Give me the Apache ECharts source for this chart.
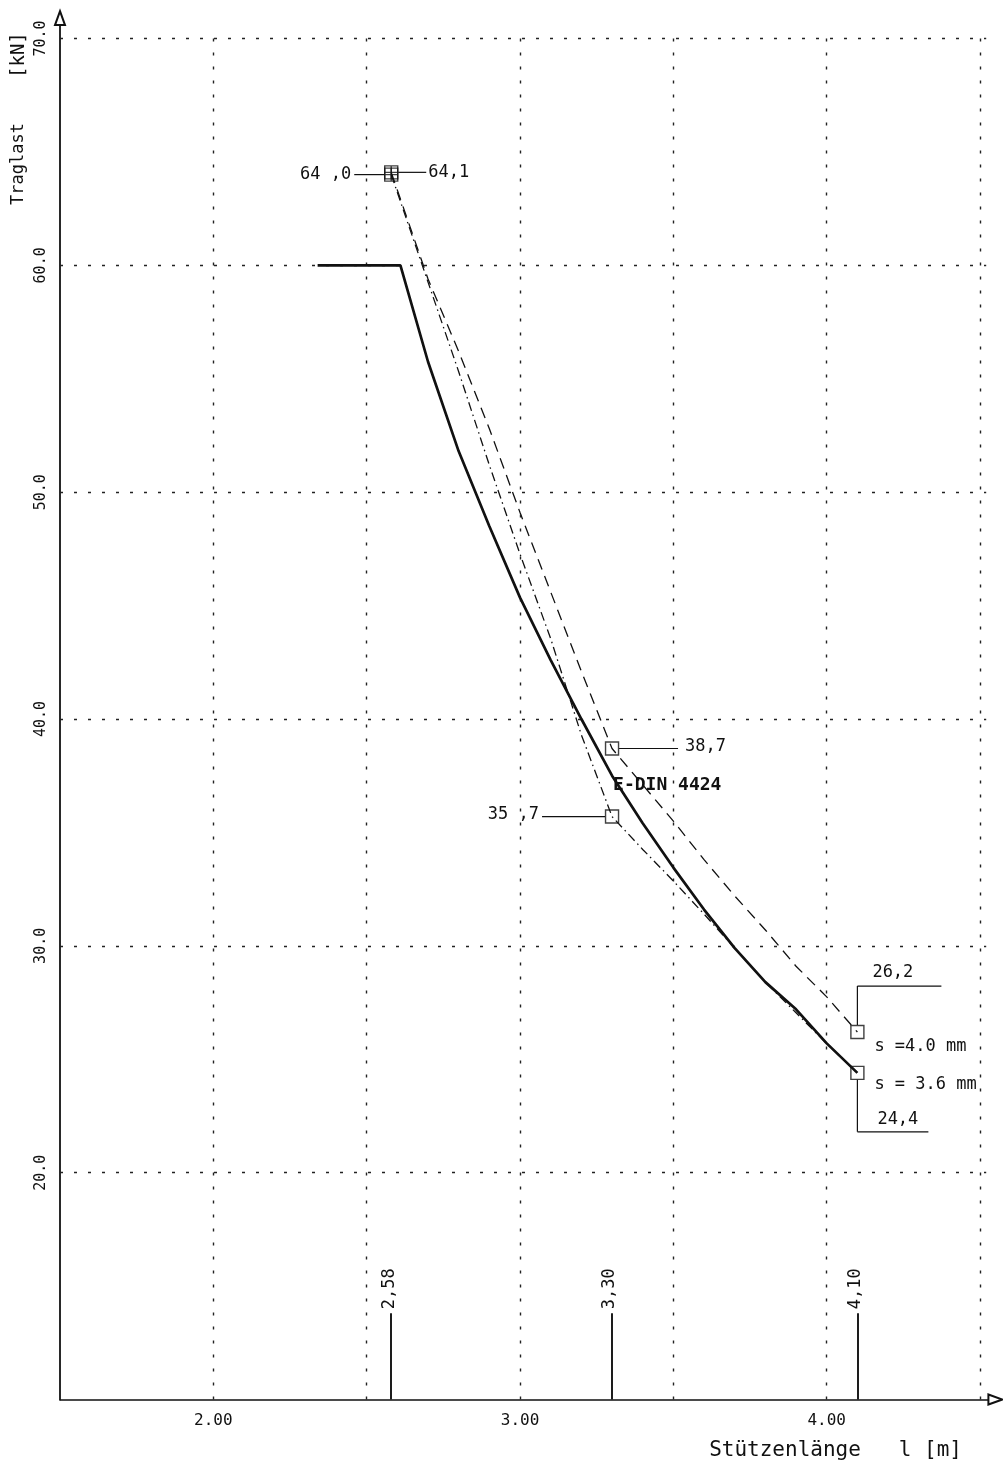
<!DOCTYPE html>
<html>
<head>
<meta charset="utf-8">
<script src="https://cdn.jsdelivr.net/npm/echarts@6/dist/echarts.min.js"></script>
<style>
  html, body { margin: 0; padding: 0; background: #fff; }
  #chart { width: 1003px; height: 1466px; }
</style>
</head>
<body>
<div id="chart"></div>
<script>
// Traglast [kN] über Stützenlänge l [m]

// Bemessungskurve nach E-DIN 4424
const dinLength = [2.34, 2.61, 2.70, 2.80, 2.90, 3.00, 3.10, 3.20, 3.30, 3.40, 3.50, 3.60, 3.70, 3.80, 3.90, 4.00, 4.10];
const dinLoad   = [60.0, 60.0, 55.75, 51.8, 48.5, 45.35, 42.6, 40.0, 37.5, 35.4, 33.45, 31.6, 29.9, 28.4, 27.2, 25.7, 24.4];

// Kurve Wanddicke s = 4.0 mm (gestrichelt)
const s40Length = [2.58, 2.70, 2.80, 2.90, 3.00, 3.10, 3.20, 3.30, 3.40, 3.50, 3.60, 3.70, 3.80, 3.90, 4.00, 4.10];
const s40Load   = [64.1, 59.4, 56.2, 52.8, 49.1, 45.6, 42.1, 38.7, 37.1, 35.5, 33.8, 32.2, 30.7, 29.1, 27.75, 26.2];

// Kurve Wanddicke s = 3.6 mm (strichpunktiert)
const s36Length = [2.58, 2.70, 2.80, 2.90, 3.00, 3.10, 3.20, 3.30, 3.40, 3.50, 3.60, 3.70, 3.80, 3.90, 4.00, 4.10];
const s36Load   = [64.0, 59.26, 55.31, 51.19, 47.27, 43.54, 39.3, 35.7, 34.25, 32.86, 31.4, 29.9, 28.4, 27.05, 25.69, 24.4];

// Versuchswerte
const testLength  = [2.58, 3.30, 4.10];
const testLoad40  = [64.1, 38.7, 26.2];
const testLoad36  = [64.0, 35.7, 24.4];
const testLabel40 = ['64,1', '38,7', '26,2'];
const testLabel36 = ['64 ,0', '35 ,7', '24,4'];
const lengthLabels = ['2,58', '3,30', '4,10'];
const curveTags = ['s =4.0 mm', 's = 3.6 mm'];
const dinTag = 'E-DIN 4424';

// Achsen
const xTickValues = [2, 3, 4];
const xTickLabels = ['2.00', '3.00', '4.00'];
const yTickValues = [20, 30, 40, 50, 60, 70];
const yTickLabels = ['20.0', '30.0', '40.0', '50.0', '60.0', '70.0'];
const gridLength = [2.0, 2.5, 3.0, 3.5, 4.0, 4.5];
const gridLoad = [20, 30, 40, 50, 60, 70];
const xTitle = 'Stützenlänge   l [m]';
const yTitle = 'Traglast';
const yUnit = '[kN]';

const mono = '"DejaVu Sans Mono", "Liberation Mono", monospace';
const ink = '#111';
const stemTop = 13.8;

const zip = (xs, ys) => xs.map((x, i) => [x, ys[i]]);
const pickLabel = (vals, labels) => v => {
  const i = vals.findIndex(t => Math.abs(t - v) < 1e-6);
  return i >= 0 ? labels[i] : '';
};

const gridSegments = [
  ...gridLength.map(x => [{ coord: [x, 10] }, { coord: [x, 70] }]),
  ...gridLoad.map(y => [{ coord: [1.5, y] }, { coord: [4.52, y] }])
];
const stemSegments = testLength.map(x => [{ coord: [x, 10] }, { coord: [x, stemTop] }]);

const boxSymbol = 'path://M0,0H12V12H0Z';
const crossBoxSymbol = 'path://M0,0H12V12H0Z M6,0V12 M0,6H12';
const markerData = (loads) => testLength.map((x, i) => ({
  value: [x, loads[i]],
  symbol: i === 0 ? crossBoxSymbol : boxSymbol
}));

const chart = echarts.init(document.getElementById('chart'), null, { renderer: 'canvas' });

chart.setOption({
  animation: false,
  backgroundColor: '#fff',
  grid: { left: 60, right: 7.6, top: 18.1, bottom: 66.5, containLabel: false, outerBoundsMode: 'none' },
  xAxis: {
    type: 'value', min: 1.5, max: 4.55, interval: 0.5,
    axisLine: {
      show: true, onZero: false,
      lineStyle: { color: ink, width: 1.5 },
      symbol: ['none', 'emptyTriangle'], symbolSize: [10, 14]
    },
    axisTick: { show: false },
    splitLine: { show: false },
    axisLabel: {
      formatter: pickLabel(xTickValues, xTickLabels),
      fontFamily: mono, fontSize: 16, color: ink, margin: 13
    }
  },
  yAxis: {
    type: 'value', min: 10, max: 70.9, interval: 10,
    axisLine: {
      show: true, onZero: false,
      lineStyle: { color: ink, width: 1.8 },
      symbol: ['none', 'emptyTriangle'], symbolSize: [10, 14]
    },
    axisTick: { show: false },
    splitLine: { show: false },
    axisLabel: {
      rotate: 90,
      formatter: pickLabel(yTickValues, yTickLabels),
      fontFamily: mono, fontSize: 15, color: ink, margin: 11
    }
  },
  series: [
    {
      type: 'line', name: 'grid', data: [], z: 1, silent: true,
      markLine: {
        silent: true, symbol: ['none', 'none'], label: { show: false }, animation: false,
        lineStyle: { type: [3, 11], width: 1.4, color: '#222' },
        data: gridSegments
      }
    },
    {
      type: 'line', name: 'stems', data: [], z: 2, silent: true,
      markLine: {
        silent: true, symbol: ['none', 'none'], label: { show: false }, animation: false,
        lineStyle: { type: 'solid', width: 1.9, color: ink },
        data: stemSegments
      }
    },
    {
      type: 'line', name: dinTag, data: zip(dinLength, dinLoad), z: 5,
      symbol: 'none', smooth: false,
      lineStyle: { color: ink, width: 2.7 }
    },
    {
      type: 'line', name: curveTags[0], data: zip(s40Length, s40Load), z: 4,
      symbol: 'none', smooth: false,
      lineStyle: { color: ink, width: 1.3, type: [11, 7] }
    },
    {
      type: 'line', name: curveTags[1], data: zip(s36Length, s36Load), z: 4,
      symbol: 'none', smooth: false,
      lineStyle: { color: ink, width: 1.3, type: [9, 4, 1.5, 4] }
    },
    {
      type: 'scatter', name: 'Versuch 4.0', data: markerData(testLoad40), z: 6,
      symbolSize: 13,
      itemStyle: { color: 'rgba(0,0,0,0)', borderColor: ink, borderWidth: 1.4 }
    },
    {
      type: 'scatter', name: 'Versuch 3.6', data: markerData(testLoad36), z: 6,
      symbolSize: 13,
      itemStyle: { color: 'rgba(0,0,0,0)', borderColor: ink, borderWidth: 1.4 }
    }
  ]
});

// Beschriftungen und Bezugslinien, über die Achsenskalen positioniert
const px = (x, y) => chart.convertToPixel({ gridIndex: 0 }, [x, y]);
const g = [];
function seg(a, b, w) {
  g.push({ type: 'line', silent: true, z: 10,
    shape: { x1: a[0], y1: a[1], x2: b[0], y2: b[1] },
    style: { stroke: ink, lineWidth: w || 1.2 } });
}
function txt(p, text, o) {
  o = o || {};
  g.push({ type: 'text', silent: true, z: 10, x: p[0], y: p[1], rotation: o.rot || 0,
    style: { text: text, fill: ink, fontFamily: o.family || mono, fontSize: o.size || 17,
      fontWeight: o.weight || 'normal', align: o.align || 'left', verticalAlign: o.va || 'middle' } });
}

const p40 = testLength.map((x, i) => px(x, testLoad40[i]));
const p36 = testLength.map((x, i) => px(x, testLoad36[i]));

// l = 2.58
seg([p40[0][0] + 7, p40[0][1]], [p40[0][0] + 35, p40[0][1]]);
txt([p40[0][0] + 37, p40[0][1]], testLabel40[0]);
seg([p36[0][0] - 7, p36[0][1]], [p36[0][0] - 37, p36[0][1]]);
txt([p36[0][0] - 40, p36[0][1]], testLabel36[0], { align: 'right' });

// l = 3.30
seg([p40[1][0] + 7, p40[1][1]], [p40[1][0] + 66, p40[1][1]]);
txt([p40[1][0] + 73, p40[1][1] - 2], testLabel40[1]);
seg([p36[1][0] - 7, p36[1][1]], [p36[1][0] - 70, p36[1][1]]);
txt([p36[1][0] - 73, p36[1][1] - 2], testLabel36[1], { align: 'right' });

// l = 4.10
seg([p40[2][0], p40[2][1] - 7], [p40[2][0], p40[2][1] - 46]);
seg([p40[2][0], p40[2][1] - 46], [p40[2][0] + 84, p40[2][1] - 46]);
txt([p40[2][0] + 15, p40[2][1] - 59], testLabel40[2]);
txt([p40[2][0] + 17, p40[2][1] + 15], curveTags[0], { size: 17 });
seg([p36[2][0], p36[2][1] + 7], [p36[2][0], p36[2][1] + 59]);
seg([p36[2][0], p36[2][1] + 59], [p36[2][0] + 71, p36[2][1] + 59]);
txt([p36[2][0] + 20, p36[2][1] + 47], testLabel36[2]);
txt([p36[2][0] + 17, p36[2][1] + 12], curveTags[1], { size: 17 });

// Längenmarken an der Abszisse
testLength.forEach((x, i) => {
  const p = px(x, stemTop);
  txt([p[0] - 2, p[1] - 4], lengthLabels[i], { rot: Math.PI / 2 });
});

// Kurvenbezeichnung E-DIN 4424
const iDin = dinLength.indexOf(3.30);
const pd = px(dinLength[iDin], dinLoad[iDin]);
txt([pd[0] + 1, pd[1] + 10], dinTag, { weight: 'bold', size: 18 });

// Achsentitel
txt([10, 205], yTitle, { rot: Math.PI / 2, va: 'top', size: 17 });
txt([10, 78], yUnit, { rot: Math.PI / 2, va: 'top', size: 19 });
txt([962, 1451], xTitle, { align: 'right', size: 21 });

chart.setOption({ graphic: g });
</script>
</body>
</html>
